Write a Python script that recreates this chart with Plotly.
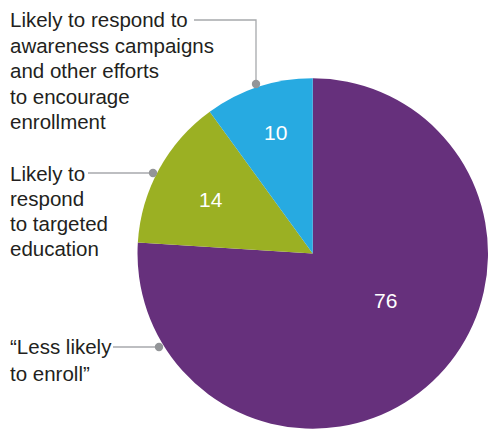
import plotly.graph_objects as go

W, H = 488, 431

categories = ['"Less likely to enroll"', 'Likely to respond to targeted education',
              'Likely to respond to awareness campaigns and other efforts to encourage enrollment']
values = [76, 14, 10]
colors = ["#66307C", "#9BB023", "#27AAE1"]
value_labels = ["76", "14", "10"]
callout_lines = [
    ["“Less likely", "to enroll”"],
    ["Likely to", "respond", "to targeted", "education"],
    ["Likely to respond to", "awareness campaigns", "and other efforts", "to encourage", "enrollment"],
]

def px(x):
    return x / W

def py(y):
    return 1 - y / H

fig = go.Figure(go.Pie(
    labels=categories, values=values, sort=False, direction="clockwise", rotation=0,
    marker=dict(colors=colors, line=dict(width=0)),
    textinfo="none", hoverinfo="none", showlegend=False,
    domain=dict(x=[px(137.5), 1.0], y=[py(429.5), py(77.5)]),
))

FS = 20.5
font_lbl = dict(family="Liberation Sans, Arial, sans-serif", size=FS, color="#231F20")
font_val = dict(family="Liberation Sans, Arial, sans-serif", size=21, color="#FFFFFF")

val_pos = [(385, 300), (211, 199), (275, 132)]
for (x, y), t in zip(val_pos, value_labels):
    fig.add_annotation(x=px(x), y=py(y), xref="paper", yref="paper", text=t,
                       showarrow=False, font=font_val, xanchor="center", yanchor="middle")

first_base = [353.3, 180.7, 26.7]
spacing = [26.5, 24.8, 25.4]
for lines, b0, sp in zip(callout_lines, first_base, spacing):
    for i, t in enumerate(lines):
        base = b0 + i * sp
        fig.add_annotation(x=px(8), y=py(base - 0.33 * FS), xref="paper", yref="paper",
                           text=t, align="left", showarrow=False, font=font_lbl,
                           xanchor="left", yanchor="middle")

line_col = "#A7A9AC"
dot_col = "#939598"
segs = [
    [(113, 347), (159, 347)],
    [(88, 173), (153, 173)],
    [(194, 20), (256, 20), (256, 84)],
]
for seg in segs:
    path = "M " + " L ".join(f"{px(x)},{py(y)}" for x, y in seg)
    fig.add_shape(type="path", path=path, xref="paper", yref="paper",
                  line=dict(color=line_col, width=1.3))
dots = [(159, 347), (153, 173), (256, 84)]
r = 4.2
for x, y in dots:
    fig.add_shape(type="circle", xref="paper", yref="paper",
                  x0=px(x - r), x1=px(x + r), y0=py(y + r), y1=py(y - r),
                  fillcolor=dot_col, line=dict(width=0))

fig.update_layout(width=W, height=H, margin=dict(l=0, r=0, t=0, b=0),
                  paper_bgcolor="white", plot_bgcolor="white")
fig.write_html("out.html", config={"displayModeBar": False},
               post_script="document.body.style.margin='0';document.body.style.overflow='hidden';")
